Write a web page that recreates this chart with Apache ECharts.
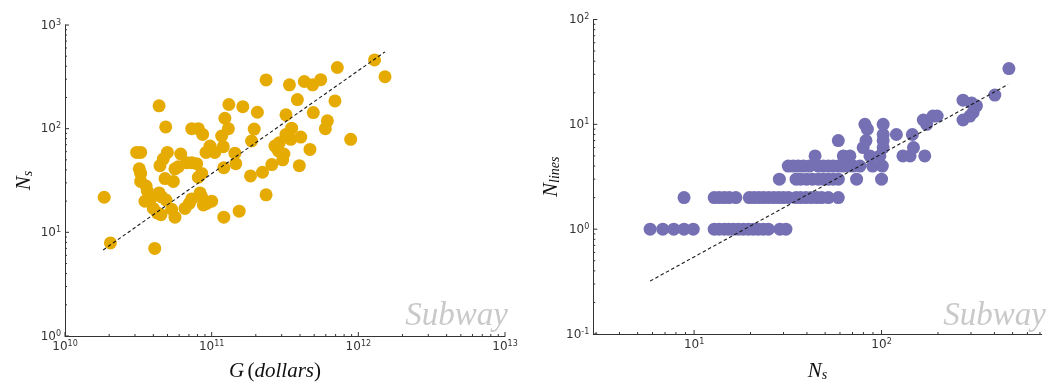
<!DOCTYPE html>
<html>
<head>
<meta charset="utf-8">
<script src="https://cdn.jsdelivr.net/npm/echarts@6/dist/echarts.min.js"></script>
<style>
  html, body { margin: 0; padding: 0; background: #fff; }
  #chart { width: 1051px; height: 387px; }
</style>
</head>
<body>
<div id="chart"></div>
<script>
// ---- Left panel: city GDP vs number of subway stations ----
const gdpDollars = [
  1.85e10, 2.04e10, 4.09e10, 4.38e10, 4.86e10, 3.08e10, 3.28e10, 3.21e10, 3.28e10, 3.28e10,
  3.57e10, 3.64e10, 3.51e10, 3.84e10, 4.0e10, 4.38e10, 4.56e10, 4.88e10, 4.26e10, 4.51e10,
  5.34e10, 5.62e10, 4.44e10, 4.68e10, 4.99e10, 4.81e10, 5.48e10, 5.62e10, 5.93e10, 6.15e10,
  6.58e10, 7.04e10, 7.31e10, 6.76e10, 7.31e10, 7.9e10, 8.33e10, 8.55e10, 8.77e10, 9.25e10,
  1.0e11, 8.11e10, 8.55e10, 9.15e10, 9.75e10, 1.05e11, 7.31e10, 8.11e10, 8.68e10, 1.17e11,
  1.20e11, 1.23e11, 1.30e11, 1.31e11, 1.21e11, 1.21e11, 1.44e11, 1.46e11, 1.54e11, 1.63e11,
  1.84e11, 1.87e11, 1.95e11, 2.05e11, 2.22e11, 2.35e11, 2.35e11, 2.57e11, 3.39e11, 3.84e11,
  4.28e11, 4.88e11, 5.54e11, 7.19e11, 6.93e11, 4.93e11, 3.21e11, 3.51e11, 3.21e11, 3.46e11,
  4.05e11, 6.15e11, 5.96e11, 8.87e11, 4.68e11, 2.70e11, 2.89e11, 2.85e11, 3.11e11, 3.05e11,
  3.96e11, 1.29e12, 1.52e12
];
const stationsByGdp = [
  21.8, 7.9, 7.0, 166, 104, 59, 59, 41, 37, 31,
  28, 25, 20, 21, 17, 24, 22, 20.5, 15.4, 14.8,
  16.7, 14, 44, 51, 59, 33, 31, 41, 43, 57,
  17, 19, 21, 47, 47, 46, 24, 22, 18.4, 19,
  20, 34, 37, 59, 68, 59, 100, 100, 88, 85,
  67, 126, 100, 171, 42, 14, 58, 46, 16, 163,
  35, 76, 99, 144, 38, 295, 23, 45, 265, 191,
  285, 265, 297, 389, 185, 143, 136, 101, 88, 79,
  83, 119, 100, 79, 63, 68, 73, 61, 57, 50,
  44, 460, 317
];
// dashed power-law fit, end points
const fitGdp = [1.82e10, 1.52e12];
const fitStations = [6.76, 551];

// ---- Right panel: number of stations vs number of lines ----
const stationsByLines = [
  // 1 line
  5.83, 6.81, 7.79, 8.84, 9.9, 12.8, 13.6, 14.5, 15.3, 16.2, 17.2, 18.3, 19.5, 20.7, 22.0, 23.4, 24.9, 28.7, 30.9,
  // 2 lines
  8.84, 12.8, 13.6, 14.5, 15.4, 16.7, 19.7, 20.9, 22.2, 23.5, 25.0, 26.6, 28.3, 30.0, 31.9, 35.0, 37.0, 39.5, 42.2, 45.1, 47.9, 52.0, 58.8,
  // 3 lines
  28.5, 35.0, 37.0, 39.8, 42.8, 46.0, 48.9, 52.0, 55.2, 58.8, 73.6, 100,
  // 4 lines
  31.8, 33.8, 35.9, 38.3, 41.2, 46.0, 48.9, 52.0, 55.2, 58.8, 62.5, 66.4, 70.6, 76.7, 89.6, 101,
  // 5 lines
  44.2, 62.5, 67.8, 86.7, 98, 130, 142, 170,
  // 6 .. 34 lines
  79.8, 102, 148,
  58.8, 82.6, 102,
  102, 120, 146,
  84,
  81.5, 102, 174,
  167, 272,
  188, 198, 296,
  308, 321, 302, 272, 402, 478
];
const numLines = [
  1, 1, 1, 1, 1, 1, 1, 1, 1, 1, 1, 1, 1, 1, 1, 1, 1, 1, 1,
  2, 2, 2, 2, 2, 2, 2, 2, 2, 2, 2, 2, 2, 2, 2, 2, 2, 2, 2, 2, 2, 2, 2,
  3, 3, 3, 3, 3, 3, 3, 3, 3, 3, 3, 3,
  4, 4, 4, 4, 4, 4, 4, 4, 4, 4, 4, 4, 4, 4, 4, 4,
  5, 5, 5, 5, 5, 5, 5, 5,
  6, 6, 6,
  7, 7, 7,
  8, 8, 8,
  9,
  10, 10, 10,
  11, 11,
  12, 12, 12,
  13, 15, 16, 17, 19, 34
];
const fitStations2 = [5.83, 473];
const fitLines = [0.32, 24.0];

// axis ranges and major (labelled) ticks
const leftXRange = [1e10, 1e13];
const leftYRange = [1, 1000];
const rightXRange = [2.9, 715];
const rightYRange = [0.1, 100];
const leftXMajor = [1e10, 1e11, 1e12, 1e13];
const leftYMajor = [1, 10, 100, 1000];
const rightXMajor = [10, 100];
const rightYMajor = [0.1, 1, 10, 100];

const GOLD = '#e6ab02';
const PURPLE = '#7570b3';
const INK = '#333';

function pairs(xs, ys) { return xs.map((x, i) => [x, ys[i]]); }

// log-axis minor ticks (2..9 within each decade) inside a range
function minorTicks(range) {
  const out = [];
  const lo = Math.floor(Math.log10(range[0]));
  const hi = Math.ceil(Math.log10(range[1]));
  for (let e = lo; e < hi; e++) {
    for (let k = 2; k <= 9; k++) {
      const v = k * Math.pow(10, e);
      if (v >= range[0] * 0.9999 && v <= range[1] * 1.0001) out.push(v);
    }
  }
  return out;
}

// tick marks drawn inward from the spines through the axis scales
function tickSeries(idx, xr, yr, xMajor, yMajor) {
  const data = [];
  xMajor.forEach(v => data.push([v, yr[0], 0, 1]));
  minorTicks(xr).forEach(v => data.push([v, yr[0], 0, 0]));
  yMajor.forEach(v => data.push([xr[0], v, 1, 1]));
  minorTicks(yr).forEach(v => data.push([xr[0], v, 1, 0]));
  return {
    type: 'custom', xAxisIndex: idx, yAxisIndex: idx, silent: true, z: 5,
    data: data,
    renderItem: function (params, api) {
      const p = api.coord([api.value(0), api.value(1)]);
      const len = api.value(3) ? 4 : 2;
      const shape = api.value(2) === 0
        ? { x1: p[0], y1: p[1], x2: p[0], y2: p[1] - len }
        : { x1: p[0], y1: p[1], x2: p[0] + len, y2: p[1] };
      return { type: 'line', shape: shape, style: { stroke: INK, lineWidth: 1 } };
    }
  };
}

const powRich = {
  b: { fontSize: 12, fontFamily: 'DejaVu Sans', color: INK, lineHeight: 13, verticalAlign: 'bottom' },
  s: { fontSize: 8, fontFamily: 'DejaVu Sans', color: INK, lineHeight: 9, padding: [0, 0, 7, 0], verticalAlign: 'top' }
};
function powLabel(v) {
  const l = Math.log10(v);
  const e = Math.round(l);
  if (Math.abs(l - e) > 1e-6) return '';
  return '{b|10}{s|' + e + '}';
}

const titleRich = {
  i: { fontSize: 21, fontFamily: 'Liberation Serif', fontStyle: 'italic', color: '#111', verticalAlign: 'bottom', lineHeight: 24 },
  n: { fontSize: 21, fontFamily: 'Liberation Serif', color: '#111', verticalAlign: 'bottom', lineHeight: 24 },
  sub: { fontSize: 14, fontFamily: 'Liberation Serif', fontStyle: 'italic', color: '#111', verticalAlign: 'bottom', lineHeight: 18, padding: [6, 0, 0, 0] }
};

function logAxis(range, gridIndex, extra) {
  return Object.assign({
    type: 'log', logBase: 10, gridIndex: gridIndex,
    min: range[0], max: range[1],
    axisLine: { show: true, lineStyle: { color: INK, width: 1 } },
    axisTick: { show: false },
    minorTick: { show: false },
    splitLine: { show: false },
    axisLabel: { formatter: powLabel, rich: powRich, margin: 4, showMinLabel: true, showMaxLabel: true, hideOverlap: false }
  }, extra);
}

const chart = echarts.init(document.getElementById('chart'), null, { renderer: 'canvas' });

chart.setOption({
  animation: false,
  backgroundColor: '#fff',
  grid: [
    { left: 65, top: 25, width: 440, height: 316.7 },
    { left: 593.3, top: 19.5, width: 448.4, height: 322.2 }
  ],
  xAxis: [
    logAxis(leftXRange, 0, {
      name: '{i|G} {n|(}{i|dollars}{n|)}', nameLocation: 'middle', nameGap: 22,
      nameTextStyle: { rich: titleRich, padding: [0, 20, 0, 0] }
    }),
    logAxis(rightXRange, 1, {
      name: '{i|N}{sub|s}', nameLocation: 'middle', nameGap: 24,
      nameTextStyle: { rich: titleRich }
    })
  ],
  yAxis: [
    logAxis(leftYRange, 0, {
      name: '{i|N}{sub|s}', nameLocation: 'middle', nameGap: 30, nameRotate: 90,
      nameTextStyle: { rich: titleRich }
    }),
    logAxis(rightYRange, 1, {
      name: '{i|N}{sub|lines}', nameLocation: 'middle', nameGap: 28, nameRotate: 90,
      nameTextStyle: { rich: titleRich }
    })
  ],
  graphic: [
    { type: 'text', x: 508, y: 333, z: 0, silent: true,
      style: { text: 'Subway', font: 'italic 33px "Liberation Serif"', fill: '#c9c9c9', textAlign: 'right', textVerticalAlign: 'bottom' } },
    { type: 'text', x: 1046, y: 333, z: 0, silent: true,
      style: { text: 'Subway', font: 'italic 33px "Liberation Serif"', fill: '#c9c9c9', textAlign: 'right', textVerticalAlign: 'bottom' } }
  ],
  series: [
    {
      type: 'scatter', xAxisIndex: 0, yAxisIndex: 0, symbolSize: 13,
      itemStyle: { color: GOLD, opacity: 1 },
      data: pairs(gdpDollars, stationsByGdp), z: 2
    },
    {
      type: 'line', xAxisIndex: 0, yAxisIndex: 0, showSymbol: false, symbol: 'none',
      lineStyle: { color: '#1a1a1a', width: 1.1, type: [3.5, 2.5] },
      data: pairs(fitGdp, fitStations), z: 3
    },
    {
      type: 'scatter', xAxisIndex: 1, yAxisIndex: 1, symbolSize: 13,
      itemStyle: { color: PURPLE, opacity: 1 },
      data: pairs(stationsByLines, numLines), z: 2
    },
    {
      type: 'line', xAxisIndex: 1, yAxisIndex: 1, showSymbol: false, symbol: 'none',
      lineStyle: { color: '#1a1a1a', width: 1.1, type: [3.5, 2.5] },
      data: pairs(fitStations2, fitLines), z: 3
    },
    tickSeries(0, leftXRange, leftYRange, leftXMajor, leftYMajor),
    tickSeries(1, rightXRange, rightYRange, rightXMajor, rightYMajor)
  ]
});
</script>
</body>
</html>
